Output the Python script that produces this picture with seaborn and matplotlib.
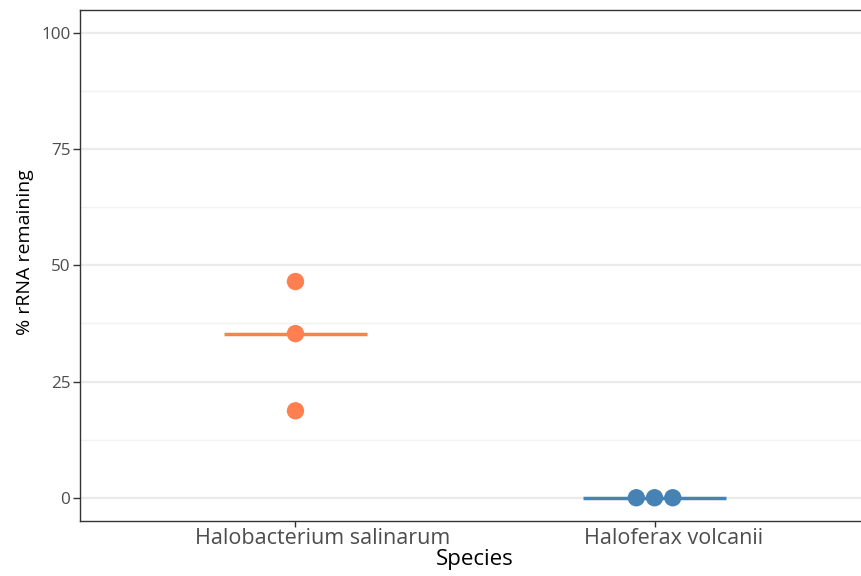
import matplotlib
matplotlib.use("Agg")
import matplotlib.pyplot as plt
from matplotlib.ticker import MultipleLocator
from matplotlib.transforms import ScaledTranslation
import pandas as pd
import seaborn as sns

# Measured rRNA retention per species (three replicates each)
species = ["Halobacterium salinarum", "Haloferax volcanii"]
salinarum_values = [46.5, 35.3, 18.7]
volcanii_values = [0.0, 0.0, 0.0]
colors = {"Halobacterium salinarum": "#FF7F50", "Haloferax volcanii": "#4682B4"}
y_ticks = [0, 25, 50, 75, 100]

df = pd.DataFrame({
    "Species": [species[0]] * len(salinarum_values) + [species[1]] * len(volcanii_values),
    "rRNA": salinarum_values + volcanii_values,
})

sns.set_theme(style="white")
plt.rcParams["font.family"] = ["Open Sans", "DejaVu Sans"]

fig = plt.figure(figsize=(8.61, 5.76), dpi=100)
ax = fig.add_axes([80 / 861, 55 / 576, 790 / 861, 511.5 / 576])

# Gridlines (major + minor) behind the data
ax.set_axisbelow(True)
ax.yaxis.set_major_locator(MultipleLocator(25))
ax.yaxis.set_minor_locator(MultipleLocator(12.5))
ax.grid(which="major", color="#EBEBEB", linewidth=1.6)
ax.grid(which="minor", axis="y", color="#F2F2F2", linewidth=1.0)

# Median bar for each species
med = df.groupby("Species", sort=False)["rRNA"].median()
for i, sp in enumerate(species):
    ax.hlines(med[sp], i - 0.2, i + 0.2, color=colors[sp], linewidth=2.5, zorder=2)

sns.swarmplot(data=df, x="Species", y="rRNA", hue="Species", order=species,
              palette=colors, size=12.5, legend=False, ax=ax, zorder=3)

ax.set_xlim(-0.6, 1.6)
ax.set_ylim(-5, 105)
ax.set_yticks(y_ticks)
ax.set_yticklabels([str(v) for v in y_ticks])

ax.set_xlabel("Species", fontsize=16, color="black", labelpad=0)
ax.set_ylabel("% rRNA remaining", fontsize=14, color="black", labelpad=5)

ax.tick_params(axis="y", which="major", length=5, width=1, color="#333333",
               labelsize=12.3, labelcolor="#4D4D4D", pad=2)
ax.tick_params(axis="y", which="minor", length=0)
ax.tick_params(axis="x", length=4, width=1, color="#333333",
               labelsize=15.5, labelcolor="#4D4D4D", pad=1)
ax.tick_params(left=True, bottom=True)

for s in ax.spines.values():
    s.set_color("#333333")
    s.set_linewidth(1.0)
# The panel runs past the right edge of the figure
ax.spines["right"].set_visible(False)

# Category labels sit a little right of their ticks; axis title a little high
fig.canvas.draw()
for lab in ax.get_xticklabels():
    w = lab.get_window_extent().width
    lab.set_transform(lab.get_transform() + ScaledTranslation(0.107 * w / 100, 0, fig.dpi_scale_trans))
ax.yaxis.label.set_transform(ax.yaxis.label.get_transform()
                             + ScaledTranslation(0, 13 / 100, fig.dpi_scale_trans))

fig.savefig("out.png", dpi=100)
